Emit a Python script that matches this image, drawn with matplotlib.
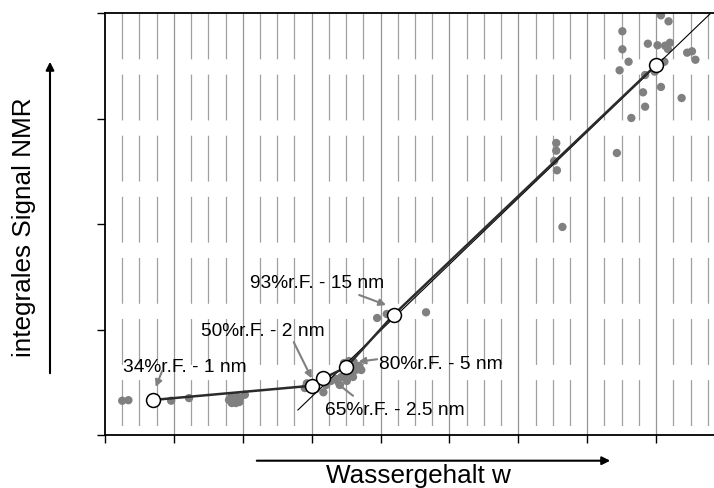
import numpy as np
import matplotlib
matplotlib.use("Agg")
import matplotlib.pyplot as plt

plt.rcParams['font.family'] = ['Liberation Sans', 'DejaVu Sans']
plt.rcParams['lines.scale_dashes'] = False

# Messpunkte (Wassergehalt, integrales Signal)
mess_x = [0.25, 0.34, 0.96, 1.22,
          1.80, 1.83, 1.86, 1.89, 1.92, 1.95, 1.84, 1.90, 1.96, 2.03,
          2.90, 3.17, 2.93, 3.06, 3.21, 3.28, 3.35, 3.43, 3.50, 3.57, 3.64,
          3.47, 3.54, 3.61, 3.69, 3.72, 3.41, 3.51, 3.60, 3.70,
          3.95, 4.09, 4.66, 6.64,
          6.55, 6.55, 6.52, 6.56, 7.43, 7.51, 7.51, 7.60, 7.47, 7.64,
          7.84, 7.81, 7.88, 8.02, 8.07, 8.18, 8.13, 8.20, 8.17, 8.12,
          7.98, 7.84, 8.07, 8.37, 8.45, 8.52, 8.57]
mess_y = [0.325, 0.33, 0.325, 0.35,
          0.332, 0.36, 0.313, 0.341, 0.36, 0.313, 0.303, 0.303, 0.351, 0.382,
          0.445, 0.405, 0.49, 0.436, 0.474, 0.512, 0.531, 0.55, 0.578, 0.607, 0.616,
          0.682, 0.701, 0.692, 0.654, 0.616, 0.474, 0.512, 0.55, 0.626,
          1.109, 1.147, 1.163, 1.972,
          2.768, 2.695, 2.597, 2.509, 2.673, 3.827, 3.656, 3.538, 3.457, 3.005,
          3.112, 3.248, 3.709, 3.694, 3.978, 3.921, 3.690, 3.718, 3.659, 3.538,
          3.444, 3.412, 3.299, 3.194, 3.624, 3.637, 3.557]

# Mittelwerte je Feuchtestufe
stufen_x = [0.697, 3.00, 3.17, 3.50, 4.19, 8.00]
stufen_y = [0.332, 0.467, 0.537, 0.642, 1.140, 3.507]

# Ausgleichsgerade
gerade_x = [2.80, 8.78]
gerade_y = [0.237, 3.99]

# Beschriftungen: Text, Textposition, Pfeil von, Pfeil nach
labels = ["34%r.F. - 1 nm", "50%r.F. - 2 nm", "65%r.F. - 2.5 nm",
          "80%r.F. - 5 nm", "93%r.F. - 15 nm"]

fig = plt.figure(figsize=(7.14, 4.89), dpi=100)
ax = fig.add_axes([105/714, 53/489, 609/714, 422/489])
xmax, ymax = 8.84, 4.0
ax.set_xlim(0, xmax)
ax.set_ylim(0, ymax)

# Gitter: volle Linien bei ganzen Werten, gestrichelt dazwischen
for gx in np.arange(0.25, xmax, 0.25):
    if abs(gx - round(gx)) < 1e-6:
        ax.plot([gx, gx], [ymax, 0], color='#969696', lw=0.9, zorder=0.5)
    else:
        ax.plot([gx, gx], [ymax, 0], color='#a0a0a0', lw=0.9,
                linestyle=(0, (33, 11)), zorder=0.5)

ax.scatter(mess_x, mess_y, s=36, color='#808080', edgecolors='none', zorder=2)
ax.plot(gerade_x, gerade_y, color='black', lw=0.8, zorder=3)
ax.plot(stufen_x, stufen_y, color='#2b2b2b', lw=1.8, zorder=4)
ax.plot(stufen_x, stufen_y, 'o', ms=10, mfc='white', mec='black', mew=1.1, zorder=5)

text_pos = [(0.26, 0.654), (1.40, 0.995), (3.19, 0.246), (3.98, 0.682), (2.10, 1.447)]
pfeil_von = [(0.83, 0.607), (2.74, 0.88), (3.60, 0.372), (3.95, 0.718), (3.69, 1.327)]
pfeil_nach = [(0.736, 0.455), (3.00, 0.537), (3.31, 0.521), (3.68, 0.695), (4.08, 1.232)]
for txt, tp, a, b in zip(labels, text_pos, pfeil_von, pfeil_nach):
    ax.text(tp[0], tp[1], txt, fontsize=13.8, ha='left', va='center', zorder=6)
    ax.annotate('', xy=b, xytext=a,
                arrowprops=dict(arrowstyle='-|>', color='#808080', lw=1.5,
                                mutation_scale=10, shrinkA=0, shrinkB=0),
                zorder=6)

ax.set_xticks(np.arange(0, 9))
ax.set_yticks(np.arange(0, 5))
ax.set_xticklabels([])
ax.set_yticklabels([])
ax.tick_params(direction='out', length=6, width=1, color='black')
for s in ['left', 'bottom', 'top']:
    ax.spines[s].set_linewidth(1.3)
ax.spines['right'].set_visible(False)

# Achsenbeschriftung mit Pfeilen
fig.text(24/714, 1 - 227/489, "integrales Signal NMR", rotation=90,
         fontsize=18.8, ha='center', va='center')
fig.text(418/714, 1 - 476/489, "Wassergehalt w", fontsize=18.8,
         ha='center', va='center')
fig.add_artist(matplotlib.patches.FancyArrowPatch(
    (50/714, 1 - 377/489), (50/714, 1 - 60/489), transform=fig.transFigure,
    arrowstyle='-|>', mutation_scale=12, lw=1.5, color='black'))
fig.add_artist(matplotlib.patches.FancyArrowPatch(
    (254/714, 1 - 461.7/489), (613/714, 1 - 461.7/489), transform=fig.transFigure,
    arrowstyle='-|>', mutation_scale=12, lw=1.5, color='black'))

fig.savefig("out.png", dpi=100)
